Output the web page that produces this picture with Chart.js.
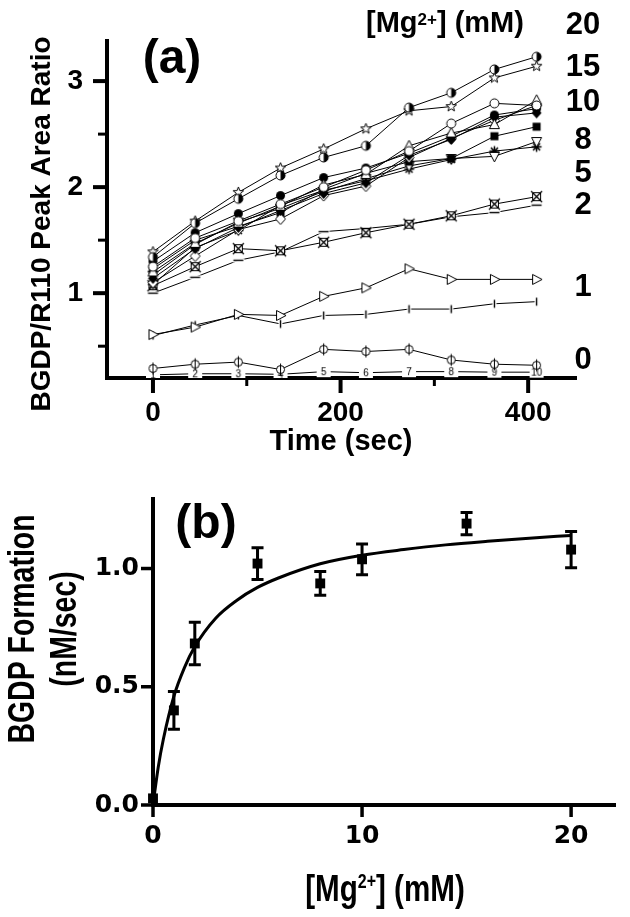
<!DOCTYPE html>
<html>
<head>
<meta charset="utf-8">
<script src="https://cdn.jsdelivr.net/npm/chart.js@4.4.1/dist/chart.umd.min.js"></script>
<style>
  body { margin: 0; background: #fff; }
  canvas { display: block; }
</style>
</head>
<body>
<canvas id="topChart" width="630" height="470"></canvas>
<canvas id="bottomChart" width="630" height="447"></canvas>
<script>
// ---- panel (a) data: BGDP/R110 peak area ratio vs time ----
const times = [0, 45, 91, 136, 182, 227, 273, 318, 364, 409];

const mg20  = [1.34, 1.66, 1.89, 2.11, 2.28, 2.39, 2.75, 2.89, 3.11, 3.23];
const mg15  = [1.39, 1.68, 1.95, 2.18, 2.36, 2.55, 2.72, 2.76, 3.03, 3.14];
const mg10a = [1.25, 1.52, 1.68, 1.84, 2.00, 2.16, 2.34, 2.60, 2.79, 2.77];
const mg10b = [1.20, 1.47, 1.66, 1.82, 2.02, 2.12, 2.39, 2.51, 2.59, 2.82];
const mg10c = [1.14, 1.42, 1.62, 1.78, 1.94, 2.04, 2.30, 2.45, 2.66, 2.70];
const mg8a  = [1.30, 1.57, 1.75, 1.92, 2.09, 2.18, 2.32, 2.48, 2.68, 2.74];
const mg8b  = [1.10, 1.35, 1.60, 1.70, 1.92, 2.01, 2.28, 2.46, 2.63, 2.77];
const mg8c  = [1.23, 1.50, 1.63, 1.76, 1.98, 2.13, 2.24, 2.27, 2.48, 2.57];
const mg5a  = [1.17, 1.46, 1.67, 1.80, 1.96, 2.08, 2.20, 2.27, 2.29, 2.43];
const mg5b  = [1.08, 1.43, 1.59, 1.83, 1.97, 2.06, 2.17, 2.26, 2.34, 2.38];
const mg2a  = [1.07, 1.25, 1.42, 1.40, 1.48, 1.57, 1.65, 1.73, 1.84, 1.91];
const mg2b  = [1.00, 1.15, 1.31, 1.39, 1.58, 1.61, 1.65, 1.72, 1.76, 1.83];
const mg1a  = [0.61, 0.68, 0.80, 0.79, 0.97, 1.05, 1.23, 1.13, 1.13, 1.13];
const mg1b  = [0.60, 0.70, 0.79, 0.71, 0.79, 0.80, 0.85, 0.85, 0.90, 0.92];
const mg0a  = [0.29, 0.33, 0.35, 0.28, 0.47, 0.45, 0.47, 0.37, 0.33, 0.32];
const mg0b  = [0.23, 0.24, 0.24, 0.235, 0.26, 0.25, 0.26, 0.26, 0.255, 0.255];

const topXTicks = [0, 200, 400];
const topXMinor = [100, 300];
const topYTicks = [1, 2, 3];
const topYMinor = [0.5, 1.5, 2.5];
const concLabels = ['20', '15', '10', '8', '5', '2', '1', '0'];

// ---- panel (b) data: BGDP formation rate vs [Mg2+] ----
const mgConc = [0, 1, 2, 5, 8, 10, 15, 20];
const rate = [0.028, 0.40, 0.683, 1.021, 0.937, 1.039, 1.19, 1.08];
const rateErr = [0, 0.08, 0.09, 0.067, 0.05, 0.065, 0.047, 0.077];
const fitConc = [0, 0.25, 0.5, 1, 1.5, 2, 3, 4, 5, 6, 8, 10, 12, 14, 16, 18, 20];
const fitRate = [0, 0.16, 0.28, 0.46, 0.58, 0.67, 0.79, 0.865, 0.92, 0.96, 1.02, 1.056, 1.08, 1.10, 1.115, 1.128, 1.14];
const bottomXTicks = [0, 10, 20];
const bottomYTicks = [0, 0.5, 1.0];

const ARIAL = '"Liberation Sans", Arial, sans-serif';

// ---- marker pictures ----
function marker(draw) {
  const c = document.createElement('canvas');
  c.width = 15; c.height = 15;
  const g = c.getContext('2d');
  g.translate(7.5, 7.5);
  g.strokeStyle = '#000'; g.fillStyle = '#fff'; g.lineWidth = 1;
  draw(g);
  return c;
}
function circ(g, r) { g.beginPath(); g.arc(0, 0, r, 0, Math.PI * 2); }
function poly(g, pts) {
  g.beginPath();
  pts.forEach((p, i) => i ? g.lineTo(p[0], p[1]) : g.moveTo(p[0], p[1]));
  g.closePath();
}

const mk = {
  halfCircle: marker(g => {
    circ(g, 4.5); g.fill(); g.stroke();
    g.beginPath(); g.arc(0, 0, 4.5, -Math.PI / 2, Math.PI / 2); g.closePath();
    g.fillStyle = '#000'; g.fill();
  }),
  star: marker(g => {
    const pts = [];
    for (let i = 0; i < 10; i++) {
      const r = i % 2 ? 2.3 : 5.5;
      const a = -Math.PI / 2 + i * Math.PI / 5;
      pts.push([r * Math.cos(a), r * Math.sin(a)]);
    }
    poly(g, pts); g.fill(); g.stroke();
  }),
  circle: marker(g => { circ(g, 4.5); g.fill(); g.stroke(); }),
  circleFilled: marker(g => { circ(g, 4.5); g.fillStyle = '#000'; g.fill(); }),
  triUp: marker(g => { poly(g, [[0, -5.5], [5, 4], [-5, 4]]); g.fill(); g.stroke(); }),
  triDown: marker(g => { poly(g, [[0, 5.5], [5, -4], [-5, -4]]); g.fill(); g.stroke(); }),
  triRight: marker(g => { poly(g, [[5.5, 0], [-4, -5], [-4, 5]]); g.fill(); g.stroke(); }),
  diamond: marker(g => { poly(g, [[0, -5.5], [5, 0], [0, 5.5], [-5, 0]]); g.fill(); g.stroke(); }),
  diamondFilled: marker(g => { poly(g, [[0, -5.5], [5, 0], [0, 5.5], [-5, 0]]); g.fillStyle = '#000'; g.fill(); }),
  square: marker(g => { g.fillStyle = '#000'; g.fillRect(-4, -4, 8, 8); }),
  asterisk: marker(g => {
    g.beginPath();
    for (let i = 0; i < 4; i++) {
      const a = i * Math.PI / 4;
      g.moveTo(-5 * Math.cos(a), -5 * Math.sin(a)); g.lineTo(5 * Math.cos(a), 5 * Math.sin(a));
    }
    g.lineWidth = 1.5; g.stroke();
  }),
  xbox: marker(g => {
    g.fillRect(-4.5, -4.5, 9, 9); g.strokeRect(-4, -4, 8, 8);
    g.beginPath(); g.moveTo(-5.5, -5.5); g.lineTo(5.5, 5.5); g.moveTo(5.5, -5.5); g.lineTo(-5.5, 5.5);
    g.lineWidth = 1.3; g.stroke();
  }),
  dash: marker(g => { g.fillRect(-6, -2, 12, 4); g.fillStyle = '#000'; g.fillRect(-5, -0.7, 10, 1.4); }),
  vbar: marker(g => { g.fillRect(-2, -6, 4, 12); g.fillStyle = '#000'; g.fillRect(-0.7, -4, 1.4, 8); }),
  phi: marker(g => {
    circ(g, 4); g.fill(); g.stroke();
    g.beginPath(); g.moveTo(0, -6); g.lineTo(0, 6); g.stroke();
  })
};

const digitMarks = times.map((t, i) => {
  const c = document.createElement('canvas');
  c.width = 16; c.height = 13;
  const g = c.getContext('2d');
  g.font = '10px ' + ARIAL;
  g.fillStyle = '#fff';
  g.fillRect(1, 1, 14, 11);
  g.fillStyle = '#000'; g.textAlign = 'center'; g.textBaseline = 'middle';
  g.fillText(String(i + 1), 8, 7);
  return c;
});

const topSeries = [
  [mg20, mk.halfCircle], [mg15, mk.star],
  [mg10a, mk.circle], [mg10b, mk.triUp], [mg10c, mk.diamondFilled],
  [mg8a, mk.circleFilled], [mg8b, mk.diamond], [mg8c, mk.square],
  [mg5a, mk.triDown], [mg5b, mk.asterisk],
  [mg2a, mk.xbox], [mg2b, mk.dash],
  [mg1a, mk.triRight], [mg1b, mk.vbar],
  [mg0a, mk.phi], [mg0b, null]
];

// ---- text helpers ----
function txt(ctx, s, x, y, size, o = {}) {
  ctx.save();
  ctx.translate(x, y);
  if (o.rot) ctx.rotate(o.rot);
  if (o.sx) ctx.scale(o.sx, 1);
  ctx.font = 'bold ' + size + 'px ' + ARIAL;
  ctx.fillStyle = '#000';
  ctx.textAlign = o.align || 'center';
  ctx.textBaseline = o.base || 'middle';
  ctx.fillText(s, 0, 0);
  ctx.restore();
}

// "[Mg2+] (mM)" with superscript, left edge at x, on baseline y
function mgTitle(ctx, x, y, size, supSize, rise, sx) {
  ctx.save();
  ctx.translate(x, y);
  ctx.scale(sx, 1);
  ctx.fillStyle = '#000';
  ctx.textBaseline = 'alphabetic';
  ctx.textAlign = 'left';
  ctx.font = 'bold ' + size + 'px ' + ARIAL;
  ctx.fillText('[Mg', 0, 0);
  let w = ctx.measureText('[Mg').width;
  ctx.font = 'bold ' + supSize + 'px ' + ARIAL;
  ctx.fillText('2+', w, -rise);
  w += ctx.measureText('2+').width;
  ctx.font = 'bold ' + size + 'px ' + ARIAL;
  ctx.fillText('] (mM)', w, 0);
  ctx.restore();
}
function mgTitleWidth(ctx, size, supSize, sx) {
  ctx.save();
  ctx.font = 'bold ' + size + 'px ' + ARIAL;
  let w = ctx.measureText('[Mg').width + ctx.measureText('] (mM)').width;
  ctx.font = 'bold ' + supSize + 'px ' + ARIAL;
  w += ctx.measureText('2+').width;
  ctx.restore();
  return w * sx;
}

function tickLines(ctx, scale, values, len, width, horizontal) {
  ctx.save();
  ctx.strokeStyle = '#000';
  ctx.lineWidth = width;
  values.forEach(v => {
    const p = scale.getPixelForValue(v);
    ctx.beginPath();
    if (horizontal) { ctx.moveTo(p, scale.top); ctx.lineTo(p, scale.top + len); }
    else { ctx.moveTo(scale.right, p); ctx.lineTo(scale.right - len, p); }
    ctx.stroke();
  });
  ctx.restore();
}

// ---- panel (a) ----
const topDecor = {
  id: 'topDecor',
  afterDraw(chart) {
    const ctx = chart.ctx;
    const { x, y } = chart.scales;
    tickLines(ctx, x, topXTicks, 15, 4, true);
    tickLines(ctx, x, topXMinor, 8, 3, true);
    tickLines(ctx, y, topYTicks, 14, 4, false);
    tickLines(ctx, y, topYMinor, 9, 3, false);

    txt(ctx, 'Time (sec)', 341, 442, 29);
    txt(ctx, 'BGDP/R110 Peak Area Ratio', 42, 224, 28, { rot: -Math.PI / 2 });
    txt(ctx, '(a)', 172, 60, 48);
    mgTitle(ctx, 366, 32, 29, 17, 7, 1);

    const labelY = [25, 67, 102, 140, 173, 205, 287, 360];
    concLabels.forEach((s, i) => txt(ctx, s, 583, labelY[i], 31));
  }
};

new Chart(document.getElementById('topChart'), {
  type: 'line',
  data: {
    datasets: topSeries.map(([vals, pic]) => ({
      data: times.map((t, i) => ({ x: t, y: vals[i] })),
      borderColor: '#000',
      borderWidth: 1,
      tension: 0,
      pointRadius: 5,
      pointStyle: pic ? pic : (c => digitMarks[c.dataIndex])
    }))
  },
  options: {
    responsive: false,
    animation: false,
    devicePixelRatio: 1,
    layout: { padding: { top: 30, right: 54, left: 0, bottom: 0 } },
    plugins: { legend: { display: false }, tooltip: { enabled: false } },
    scales: {
      x: {
        type: 'linear', min: -49, max: 451,
        afterBuildTicks: s => { s.ticks = topXTicks.map(v => ({ value: v })); },
        afterFit: s => { s.height = 92; },
        grid: { display: false, drawTicks: false },
        border: { display: true, width: 4, color: '#000' },
        ticks: { color: '#000', padding: 18, font: { family: ARIAL, size: 28, weight: 'bold' } }
      },
      y: {
        min: 0.2, max: 3.38,
        afterBuildTicks: s => { s.ticks = topYTicks.map(v => ({ value: v })); },
        afterFit: s => { s.width = 107; },
        grid: { display: false, drawTicks: false },
        border: { display: true, width: 4, color: '#000' },
        ticks: { color: '#000', padding: 24, font: { family: ARIAL, size: 28, weight: 'bold' } }
      }
    }
  },
  plugins: [topDecor]
});

// ---- panel (b) ----
const bottomDecor = {
  id: 'bottomDecor',
  afterDatasetsDraw(chart) {
    const ctx = chart.ctx;
    const { x, y } = chart.scales;
    ctx.save();
    ctx.strokeStyle = '#000';
    ctx.lineWidth = 3;
    mgConc.forEach((c, i) => {
      if (!rateErr[i]) return;
      const px = x.getPixelForValue(c);
      const top = y.getPixelForValue(rate[i] + rateErr[i]);
      const bot = y.getPixelForValue(rate[i] - rateErr[i]);
      ctx.beginPath();
      ctx.moveTo(px, top); ctx.lineTo(px, bot);
      ctx.moveTo(px - 6, top); ctx.lineTo(px + 6, top);
      ctx.moveTo(px - 6, bot); ctx.lineTo(px + 6, bot);
      ctx.stroke();
    });
    ctx.restore();
  },
  afterDraw(chart) {
    const ctx = chart.ctx;
    const { x, y } = chart.scales;
    tickLines(ctx, x, bottomXTicks, 12, 3.5, true);
    tickLines(ctx, y, bottomYTicks, 12, 3.5, false);

    txt(ctx, '(b)', 206, 55, 48);
    txt(ctx, 'BGDP Formation', 24, 159, 36, { rot: -Math.PI / 2, sx: 0.79 });
    txt(ctx, '(nM/sec)', 66, 159, 36, { rot: -Math.PI / 2, sx: 0.79 });
    const w = mgTitleWidth(ctx, 37, 20, 0.8);
    mgTitle(ctx, 385 - w / 2, 431, 37, 20, 13.5, 0.8);
  }
};

new Chart(document.getElementById('bottomChart'), {
  type: 'line',
  data: {
    datasets: [
      {
        data: mgConc.map((c, i) => ({ x: c, y: rate[i] })),
        showLine: false,
        pointStyle: 'rect',
        pointRadius: 7,
        backgroundColor: '#000',
        borderColor: '#000',
        borderWidth: 0,
        clip: false
      },
      {
        data: fitConc.map((c, i) => ({ x: c, y: fitRate[i] })),
        borderColor: '#000',
        borderWidth: 3,
        pointRadius: 0,
        cubicInterpolationMode: 'monotone',
        clip: false
      }
    ]
  },
  options: {
    responsive: false,
    animation: false,
    devicePixelRatio: 1,
    layout: { padding: { top: 29, right: 15, left: 0, bottom: 0 } },
    plugins: { legend: { display: false }, tooltip: { enabled: false } },
    scales: {
      x: {
        type: 'linear', min: 0, max: 22.1,
        afterBuildTicks: s => { s.ticks = bottomXTicks.map(v => ({ value: v })); },
        afterFit: s => { s.height = 112; },
        grid: { display: false, drawTicks: false },
        border: { display: true, width: 4, color: '#000' },
        ticks: { color: '#000', padding: 16, font: { family: '"DejaVu Sans", sans-serif', size: 25, weight: 'bold' } }
      },
      y: {
        min: 0, max: 1.294,
        afterBuildTicks: s => { s.ticks = bottomYTicks.map(v => ({ value: v })); },
        afterFit: s => { s.width = 153; },
        grid: { display: false, drawTicks: false },
        border: { display: true, width: 4, color: '#000' },
        ticks: {
          color: '#000', padding: 14,
          font: { family: '"DejaVu Sans", sans-serif', size: 25, weight: 'bold' },
          callback: v => v.toFixed(1)
        }
      }
    }
  },
  plugins: [bottomDecor]
});
</script>
</body>
</html>
